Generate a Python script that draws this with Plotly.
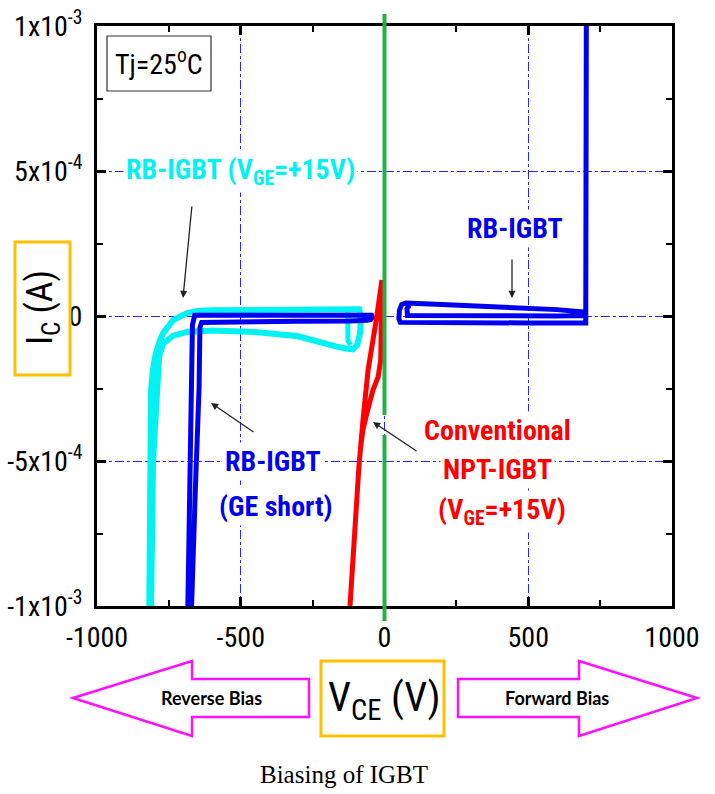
import plotly.graph_objects as go

# ---------------- data (V_CE in volts, I_C in amperes) ----------------
x_ticks = [-1000, -500, 0, 500, 1000]
y_ticks = [-1e-3, -5e-4, 0, 5e-4, 1e-3]
y_ticktext = ["-1x10<sup>-3</sup>", "-5x10<sup>-4</sup>", "0", "5x10<sup>-4</sup>", "1x10<sup>-3</sup>"]

# RB-IGBT, VGE=+15V (cyan) - reverse side
cyan_v = [-818, -816, -812, -806, -798, -785, -770, -735, -710, -687, -650, -600, -450, -300,
          -160, -88, -82, -85, -95, -110, -135, -170, -300, -450, -600, -652, -687, -735,
          -770, -784, -791, -805, -812]
cyan_i = [-10e-4, -5e-4, -2.55e-4, -1.9e-4, -1.41e-4, -0.95e-4, -0.59e-4, -0.14e-4, 0.0, 0.1e-4,
          0.17e-4, 0.2e-4, 0.21e-4, 0.22e-4, 0.23e-4, 0.23e-4, 0.0, -0.6e-4, -1.0e-4, -1.15e-4,
          -1.12e-4, -1.05e-4, -0.7e-4, -0.55e-4, -0.5e-4, -0.52e-4, -0.55e-4, -0.68e-4, -0.95e-4,
          -1.41e-4, -2.55e-4, -5e-4, -10e-4]
cyan_leg_v = [-128, -127, -118]
cyan_leg_i = [0.2e-4, -0.85e-4, -1.0e-4]

# RB-IGBT, GE short (blue) - reverse side
blue_rev_v = [-684, -678, -671, -668, -660, -500, -300, -120, -60, -45, -42, -48, -60, -120,
              -300, -500, -636, -642, -645, -658, -671]
blue_rev_i = [-10e-4, -6e-4, -2.5e-4, -0.3e-4, 0.03e-4, 0.04e-4, 0.05e-4, 0.05e-4, 0.04e-4,
              0.03e-4, -0.04e-4, -0.12e-4, -0.15e-4, -0.17e-4, -0.18e-4, -0.2e-4, -0.22e-4,
              -0.4e-4, -2.5e-4, -6e-4, -10e-4]

# RB-IGBT (blue) - forward side
blue_fwd_v = [702, 702, 703, 704, 700, 500, 300, 100, 55, 50, 52, 60, 75, 200, 400, 600, 690,
              698, 600, 400, 200, 95, 80, 78, 84, 92]
blue_fwd_i = [10.2e-4, 5e-4, 0.5e-4, -0.18e-4, -0.24e-4, -0.24e-4, -0.24e-4, -0.24e-4, -0.22e-4,
              -0.1e-4, 0.2e-4, 0.4e-4, 0.45e-4, 0.4e-4, 0.32e-4, 0.22e-4, 0.14e-4, 0.02e-4,
              0.0, 0.0, 0.0, 0.0, 0.02e-4, 0.25e-4, 0.35e-4, 0.35e-4]

# Conventional NPT-IGBT, VGE=+15V (red)
red_v = [-120, -110, -89, -75, -57, -27, -9, -11, -13, -22, -40, -61, -75, -84]
red_i = [-10e-4, -8.4e-4, -5.2e-4, -3.6e-4, -1.86e-4, -0.03e-4, 1.24e-4, 0.0, -1.5e-4, -2.1e-4,
         -2.55e-4, -3.34e-4, -3.93e-4, -4.6e-4]

# ---------------- figure ----------------
W, H = 715, 794
PL, PR, PT, PB = 97, 672, 26, 606          # plot area in window pixels
L, T, R, B = PL, PT, W - PR, H - PB
PW, PH = PR - PL, PB - PT


def px(x):
    return (x - PL) / PW


def py(y):
    return (PB - y) / PH


NARROW = "Liberation Sans Narrow, Arial Narrow, Roboto Condensed, Liberation Sans, Arial"

fig = go.Figure()
fig.add_trace(go.Scatter(x=cyan_v, y=cyan_i, mode="lines",
                         line=dict(color="#00F2F2", width=6), showlegend=False))
fig.add_trace(go.Scatter(x=cyan_leg_v, y=cyan_leg_i, mode="lines",
                         line=dict(color="#00F2F2", width=5), showlegend=False))
fig.add_trace(go.Scatter(x=blue_rev_v, y=blue_rev_i, mode="lines",
                         line=dict(color="#0000F0", width=5), showlegend=False))
fig.add_trace(go.Scatter(x=blue_fwd_v, y=blue_fwd_i, mode="lines",
                         line=dict(color="#0000F0", width=5), showlegend=False))
fig.add_trace(go.Scatter(x=red_v, y=red_i, mode="lines",
                         line=dict(color="#FF0000", width=5), showlegend=False))

axis_common = dict(
    showline=True, linewidth=3, linecolor="black", mirror="ticks",
    ticks="inside", ticklen=9, tickwidth=3, tickcolor="black",
    showgrid=True, gridcolor="#2626FF", gridwidth=1, griddash="dashdot",
    zeroline=False, automargin=False,
    tickfont=dict(family=NARROW, size=28, color="black"),
)

fig.update_xaxes(range=[-1000, 1000], tickvals=x_ticks, ticktext=[str(v) for v in x_ticks],
                 minor=dict(dtick=250, ticks="inside", ticklen=6, tickwidth=2, tickcolor="black",
                            showgrid=False),
                 ticklabelstandoff=4, **axis_common)
fig.update_yaxes(range=[-1e-3, 1e-3], tickvals=y_ticks, ticktext=y_ticktext,
                 minor=dict(dtick=2.5e-4, ticks="inside", ticklen=6, tickwidth=2, tickcolor="black",
                            showgrid=False),
                 ticklabelstandoff=6, **axis_common)

shapes = []
# green reference line at V_CE = 0 (centre of the x range), with a small gap
for y0, y1 in [(14, 415), (435, 621)]:
    shapes.append(dict(type="line", xref="paper", yref="paper", x0=0.5, x1=0.5,
                       y0=py(y0), y1=py(y1), line=dict(color="#22B04B", width=4), layer="above"))
# Tj box
shapes.append(dict(type="rect", xref="paper", yref="paper", x0=px(107), x1=px(211),
                   y0=py(91), y1=py(36), line=dict(color="#333333", width=1.2),
                   fillcolor="white", layer="above"))
# axis title boxes
shapes.append(dict(type="rect", xref="paper", yref="paper", x0=px(15), x1=px(70),
                   y0=py(375), y1=py(242), line=dict(color="#FFC000", width=3)))
shapes.append(dict(type="rect", xref="paper", yref="paper", x0=px(321), x1=px(444),
                   y0=py(736), y1=py(661), line=dict(color="#FFC000", width=3)))


def arrow_path(pts):
    d = "M " + " L ".join(f"{px(a):.5f},{py(b):.5f}" for a, b in pts) + " Z"
    return d


left_arrow = [(73, 698), (192, 661), (192, 679), (309, 679), (309, 717), (192, 717), (192, 736)]
right_arrow = [(697, 698), (579, 661), (579, 679), (458, 679), (458, 717), (579, 717), (579, 736)]
for pts in (left_arrow, right_arrow):
    shapes.append(dict(type="path", xref="paper", yref="paper", path=arrow_path(pts),
                       line=dict(color="#FF10FF", width=2.5), fillcolor="white"))

fig.update_layout(shapes=shapes)

ann = []


def label(text, x, y, color, size=28, family=NARROW, bg="white", bold=True, angle=0, pad=2):
    if bold:
        text = "<b>" + text + "</b>"
    ann.append(dict(text=text, xref="paper", yref="paper", x=px(x), y=py(y),
                    xanchor="center", yanchor="middle", showarrow=False, textangle=angle,
                    font=dict(family=family, size=size, color=color),
                    bgcolor=bg, borderpad=pad))


def arrow(tail, head):
    ann.append(dict(text="", xref="paper", yref="paper", x=px(head[0]), y=py(head[1]),
                    ax=tail[0] - head[0], ay=tail[1] - head[1], axref="pixel", ayref="pixel",
                    showarrow=True, arrowhead=2, arrowsize=1.1, arrowwidth=1.3,
                    arrowcolor="#222222", standoff=0))


label("Tj=25<sup>o</sup>C", 159, 63, "black", size=28, bold=False, bg=None)
label("RB-IGBT (V<sub>GE</sub>=+15V)", 240, 172, "#00F2F2")
label("RB-IGBT", 515, 228, "#0000F0")
label("RB-IGBT", 273, 462, "#0000F0")
label("(GE short)", 276, 506, "#0000F0")
label("Conventional", 497, 430, "#FF0000")
label("NPT-IGBT", 497, 469, "#FF0000")
label("(V<sub>GE</sub>=+15V)", 502, 511, "#FF0000")
label("I<sub>C</sub> (A)", 42, 308, "black", size=36, bold=False, bg=None, angle=-90)
label("V<sub>CE</sub> (V)", 384, 700, "black", size=41, bold=False, bg=None)
label("Reverse Bias", 211, 698, "black", size=18, family="Lato", bg=None)
label("Forward Bias", 557, 698, "black", size=18, family="Lato", bg=None)
label("Biasing of IGBT", 344, 774, "black", size=25, family="Liberation Serif, Times New Roman",
      bg=None, bold=False)

arrow((192, 205), (183, 298))
arrow((512, 258), (512, 298))
arrow((255, 433), (211, 403))
arrow((418, 452), (373, 422))

fig.update_layout(
    annotations=ann,
    width=W, height=H,
    margin=dict(l=L, r=R, t=T, b=B, pad=0, autoexpand=False),
    plot_bgcolor="white", paper_bgcolor="white",
    showlegend=False,
)

# remove the browser's default 8px body margin so the figure sits at the window origin
fig.write_html("out.html", config={"displayModeBar": False},
               post_script="document.body.style.margin='0';document.body.style.overflow='hidden';")
